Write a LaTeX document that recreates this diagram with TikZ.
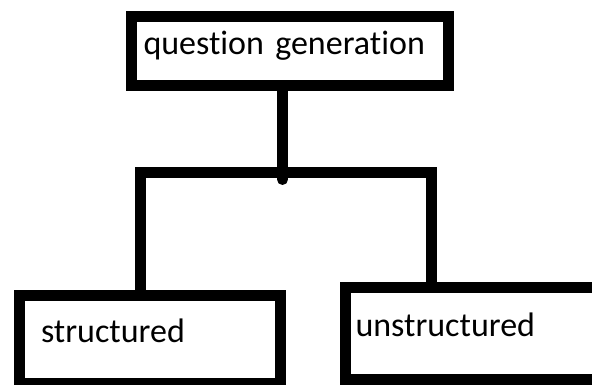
\documentclass[tikz,border=0pt]{standalone}
\usepackage{fontspec}
\setmainfont{Carlito}[Ligatures={NoCommon}]
\usepackage{tikz}

\begin{document}
\begin{tikzpicture}[x=1pt,y=-1pt,
  box/.style={draw,line width=11pt,align=left,font=\fontsize{34}{40}\selectfont,
    text height=20pt,text depth=13pt,inner ysep=0pt},
  link/.style={line width=11pt}]
\useasboundingbox (0,0) rectangle (592,385);
\node[box,inner xsep=12pt,text width=292.5pt,minimum height=69pt](qg)at(289.75,51){question generation};
\node[box,inner xsep=22pt,text width=217pt,minimum height=88pt](st)at(149.5,339){structured};
\node[box,inner xsep=10.5pt,text width=239pt,minimum height=91.5pt](un)at(475,333.25){unstructured};
\coordinate(split)at(282.5,173);
\coordinate(lcorner)at(140.5,173);
\coordinate(rcorner)at(431.5,173);
\draw[link,line cap=round](qg.south -| split)--(282.5,179.5);
\draw[link](st.north -| lcorner)--(lcorner)--(rcorner)--(rcorner |- un.north);
\end{tikzpicture}
\end{document}
